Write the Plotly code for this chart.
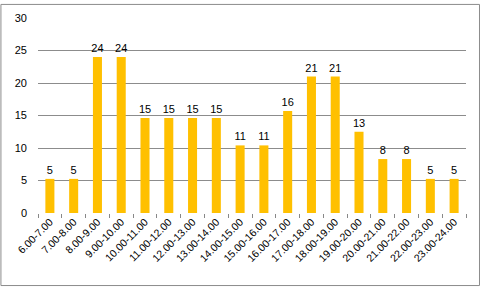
import plotly.graph_objects as go

categories = ["6.00-7.00", "7.00-8.00", "8.00-9.00", "9.00-10.00", "10.00-11.00",
              "11.00-12.00", "12.00-13.00", "13.00-14.00", "14.00-15.00", "15.00-16.00",
              "16.00-17.00", "17.00-18.00", "18.00-19.00", "19.00-20.00", "20.00-21.00",
              "21.00-22.00", "22.00-23.00", "23.00-24.00"]
values = [5.25, 5.25, 24.0, 24.0, 14.6, 14.6, 14.6, 14.6, 10.4, 10.4,
          15.7, 21.0, 21.0, 12.5, 8.3, 8.3, 5.25, 5.25]
labels = ["5", "5", "24", "24", "15", "15", "15", "15", "11", "11",
          "16", "21", "21", "13", "8", "8", "5", "5"]
y_ticks = [0, 5, 10, 15, 20, 25, 30]

W, H = 481, 289
ml, mr, mt, mb = 37.6, 15, 14.3, 76.3
pw, ph = W - ml - mr, H - mt - mb

fig = go.Figure(go.Bar(
    x=categories, y=values, text=labels, textposition="outside",
    constraintext="none",
    marker=dict(color="#FFC000", line=dict(width=0)),
    textfont=dict(family="Liberation Sans", size=11, color="#000000"),
    cliponaxis=False,
))

fig.update_layout(
    width=W, height=H,
    margin=dict(l=ml, r=mr, t=mt, b=mb, pad=0),
    paper_bgcolor="white", plot_bgcolor="white",
    bargap=0.62, showlegend=False,
    font=dict(family="Liberation Sans", size=11, color="#000000"),
    xaxis=dict(tickangle=-45, showgrid=False, showline=False,
               ticks="outside", ticklen=4, tickcolor="#888888",
               tickson="boundaries",
               tickfont=dict(size=10.5, family="Liberation Sans")),
    yaxis=dict(range=[0, 30], tickvals=y_ticks, showgrid=True, gridcolor="#8c8c8c",
               gridwidth=1, zeroline=False, showline=False, ticks="",
               ticklabelstandoff=10,
               tickfont=dict(size=11, family="Liberation Sans")),
    shapes=[dict(type="rect", xref="paper", yref="paper",
                 x0=(0.5 - ml) / pw, x1=(W - 1.5 - ml) / pw,
                 y0=-(mb - 2.5) / ph, y1=1 + (mt - 0.5) / ph,
                 line=dict(color="#8c8c8c", width=1), fillcolor="rgba(0,0,0,0)")],
)

fig.write_html("out.html")
